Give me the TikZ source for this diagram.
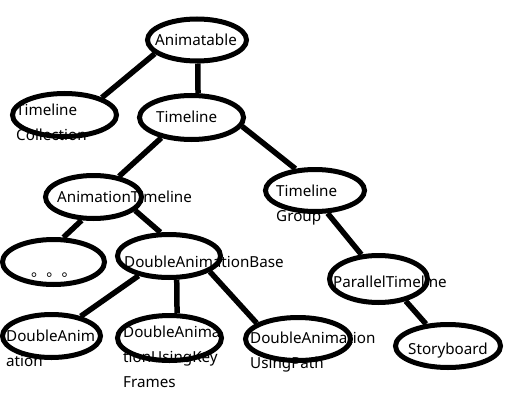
\documentclass[tikz,border=0pt]{standalone}
\usepackage{fontspec}
\setmainfont{Noto Sans}
\newfontfamily\cjk{Noto Sans CJK SC}
\usetikzlibrary{shapes.geometric}
\begin{document}
\begin{tikzpicture}[x=1pt,y=-1pt,
  ell/.style={draw, ellipse, line width=5pt, inner sep=0pt},
  edge/.style={line width=5.5pt},
  lbl/.style={anchor=base west, inner sep=0pt, font=\fontsize{15.2}{18}\selectfont}]
\fill[white] (0,0) rectangle (521,409);
\useasboundingbox (0,0) rectangle (521,409);
% texts
\node[lbl] (tAnim) at (155,45.7) {Animatable};
\node[lbl] (tTc1) at (16,115) {Timeline};
\node[lbl] (tTc2) at (16,140) {Collection};
\node[lbl] (tTl) at (156,122) {Timeline};
\node[lbl] (tAt) at (57,202) {AnimationTimeline};
\node[lbl] (tTg1) at (276,196) {Timeline};
\node[lbl] (tTg2) at (276,221) {Group};
\node[lbl] (tDots) at (31,276) {\cjk 。。。};
\node[lbl] (tDab) at (124,267) {DoubleAnimationBase};
\node[lbl] (tPt) at (333,287) {ParallelTimeline};
\node[lbl] (tDa1) at (6,341) {DoubleAnim};
\node[lbl] (tDa2) at (6,366) {ation};
\node[lbl] (tDak1) at (123,337) {DoubleAnima};
\node[lbl] (tDak2) at (123,362) {tionUsingKey};
\node[lbl] (tDak3) at (123,387) {Frames};
\node[lbl] (tDap1) at (250,343) {DoubleAnimation};
\node[lbl] (tDap2) at (250,368) {UsingPath};
\node[lbl] (tSb) at (408,354) {Storyboard};
% ellipses
\node[ell, minimum width=99pt, minimum height=42pt] (anim) at (197,40) {};
\node[ell, minimum width=104pt, minimum height=43pt] (tc) at (64.5,115) {};
\node[ell, minimum width=104pt, minimum height=44pt] (tl) at (191.5,117.5) {};
\node[ell, minimum width=96pt, minimum height=43pt] (at) at (93.5,197) {};
\node[ell, minimum width=99pt, minimum height=42pt] (tg) at (315,190.5) {};
\node[ell, minimum width=102pt, minimum height=45pt] (dots) at (53.5,262) {};
\node[ell, minimum width=103pt, minimum height=43pt] (dab) at (169,256) {};
\node[ell, minimum width=98pt, minimum height=47pt] (pt) at (378.5,279) {};
\node[ell, minimum width=105pt, minimum height=43pt] (sb) at (448,346) {};
\node[ell, minimum width=98pt, minimum height=43pt] (da) at (51.5,336) {};
\node[ell, minimum width=104pt, minimum height=45pt] (dak) at (169.5,338) {};
\node[ell, minimum width=105pt, minimum height=43pt] (dap) at (298,339) {};
% connectors
\draw[edge] (anim.272) -- (tl.75);
\draw[edge] (anim.198) -- (tc.25);
\draw[edge] (tl.214) -- (at.39);
\draw[edge] (tl.350) -- (tg.132);
\draw[edge] (tg.299) -- (pt.125);
\draw[edge] (pt.321) -- (sb.135);
\draw[edge] (at.243) -- (dots.68);
\draw[edge] (at.342) -- (dab.110);
\draw[edge] (dab.213) -- (da.34);
\draw[edge] (dab.288) -- (dak.73);
\draw[edge] (dab.339) -- (dap.159);
\end{tikzpicture}
\end{document}
